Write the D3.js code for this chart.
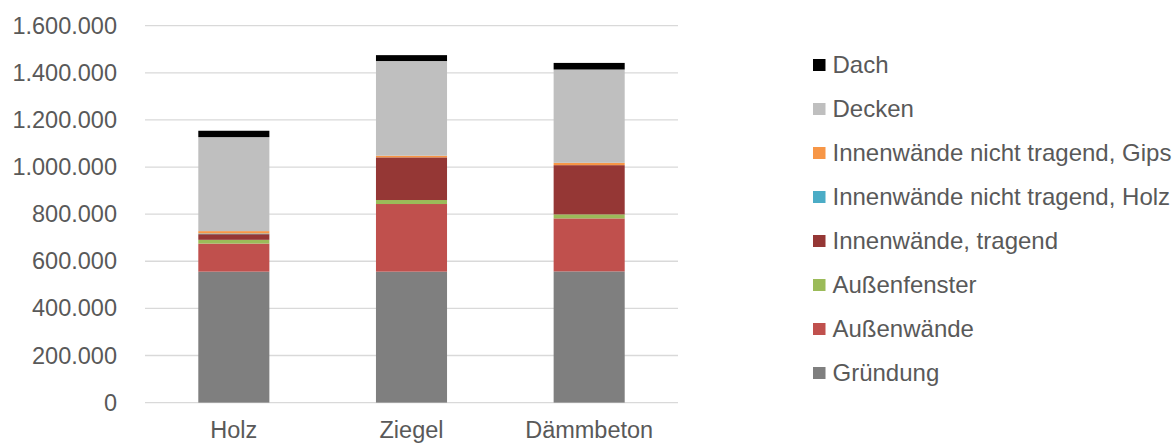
<!DOCTYPE html>
<html>
<head>
<meta charset="utf-8">
<script src="https://cdn.jsdelivr.net/npm/d3@7"></script>
<style>
  body { margin: 0; background: #fff; }
  text { font-family: "Liberation Sans", Arial, sans-serif; fill: #595959; }
</style>
</head>
<body>
<svg width="1173" height="444"></svg>
<script>
const categories = ['Holz', 'Ziegel', 'Dämmbeton']

// stacked from bottom to top
const seriesNames = [
  'Gründung',
  'Außenwände',
  'Außenfenster',
  'Innenwände, tragend',
  'Innenwände nicht tragend, Holz',
  'Innenwände nicht tragend, Gips',
  'Decken',
  'Dach'
]
const gruendung = [556000, 556000, 557000]
const aussenwaende = [119000, 287000, 225000]
const aussenfenster = [16000, 17000, 17000]
const innenTragend = [24000, 181000, 209000]
const innenHolz = [3000, 0, 0]
const innenGips = [10000, 7000, 10000]
const decken = [399000, 402000, 396000]
const dach = [27000, 25000, 28000]

const yTicks = [0, 200000, 400000, 600000, 800000, 1000000, 1200000, 1400000, 1600000]

const colors = ['#7f7f7f', '#c0504d', '#9bbb59', '#953735', '#4bacc6', '#f79646', '#bfbfbf', '#000000']

const seriesValues = [gruendung, aussenwaende, aussenfenster, innenTragend, innenHolz, innenGips, decken, dach]

const rows = categories.map((c, i) => {
  const row = { cat: c }
  seriesNames.forEach((s, j) => { row[s] = seriesValues[j][i] })
  return row
})

const svg = d3.select('svg')
const margin = { left: 145, right: 678, top: 25.7, bottom: 402.6 }

const x = d3.scaleBand()
  .domain(categories)
  .range([margin.left, margin.right])
  .paddingInner(0.6)
  .paddingOuter(0.3)

const y = d3.scaleLinear()
  .domain([0, 1600000])
  .range([margin.bottom, margin.top])

const fmt = v => d3.format(',')(v).replace(/,/g, '.')

// gridlines
svg.append('g')
  .selectAll('line')
  .data(yTicks)
  .enter().append('line')
  .attr('x1', margin.left)
  .attr('x2', margin.right)
  .attr('y1', d => y(d))
  .attr('y2', d => y(d))
  .attr('stroke', '#d9d9d9')
  .attr('stroke-width', 1.3)

const stack = d3.stack().keys(seriesNames)(rows)

svg.append('g')
  .selectAll('g')
  .data(stack)
  .enter().append('g')
  .attr('fill', (d, i) => colors[i])
  .selectAll('rect')
  .data(d => d)
  .enter().append('rect')
  .attr('x', d => x(d.data.cat))
  .attr('width', x.bandwidth())
  .attr('y', d => y(d[1]))
  .attr('height', d => y(d[0]) - y(d[1]))

// y axis labels
const yAxis = d3.axisLeft(y).tickValues(yTicks).tickFormat(fmt).tickSize(0).tickPadding(28)
svg.append('g')
  .attr('transform', `translate(${margin.left},0)`)
  .call(yAxis)
  .call(g => g.select('.domain').remove())
  .selectAll('text')
  .style('font-size', '23.5px')
  .style('font-family', '"Liberation Sans", Arial, sans-serif')
  .attr('fill', '#595959')

// x axis labels
const xAxis = d3.axisBottom(x).tickSize(0).tickPadding(19)
svg.append('g')
  .attr('transform', `translate(0,${margin.bottom})`)
  .call(xAxis)
  .call(g => g.select('.domain').remove())
  .selectAll('text')
  .style('font-size', '23.5px')
  .style('font-family', '"Liberation Sans", Arial, sans-serif')
  .attr('fill', '#595959')

// legend, top entry is Dach
const legendItems = seriesNames.map((s, i) => ({ name: s, color: colors[i] })).reverse()
const legend = svg.append('g')
  .selectAll('g')
  .data(legendItems)
  .enter().append('g')
  .attr('transform', (d, i) => `translate(813,${65 + i * 44})`)

legend.append('rect')
  .attr('x', 0)
  .attr('y', -6)
  .attr('width', 12.5)
  .attr('height', 12)
  .attr('fill', d => d.color)

legend.append('text')
  .attr('x', 19.5)
  .attr('dy', '0.35em')
  .style('font-size', '24px')
  .text(d => d.name)
</script>
</body>
</html>
